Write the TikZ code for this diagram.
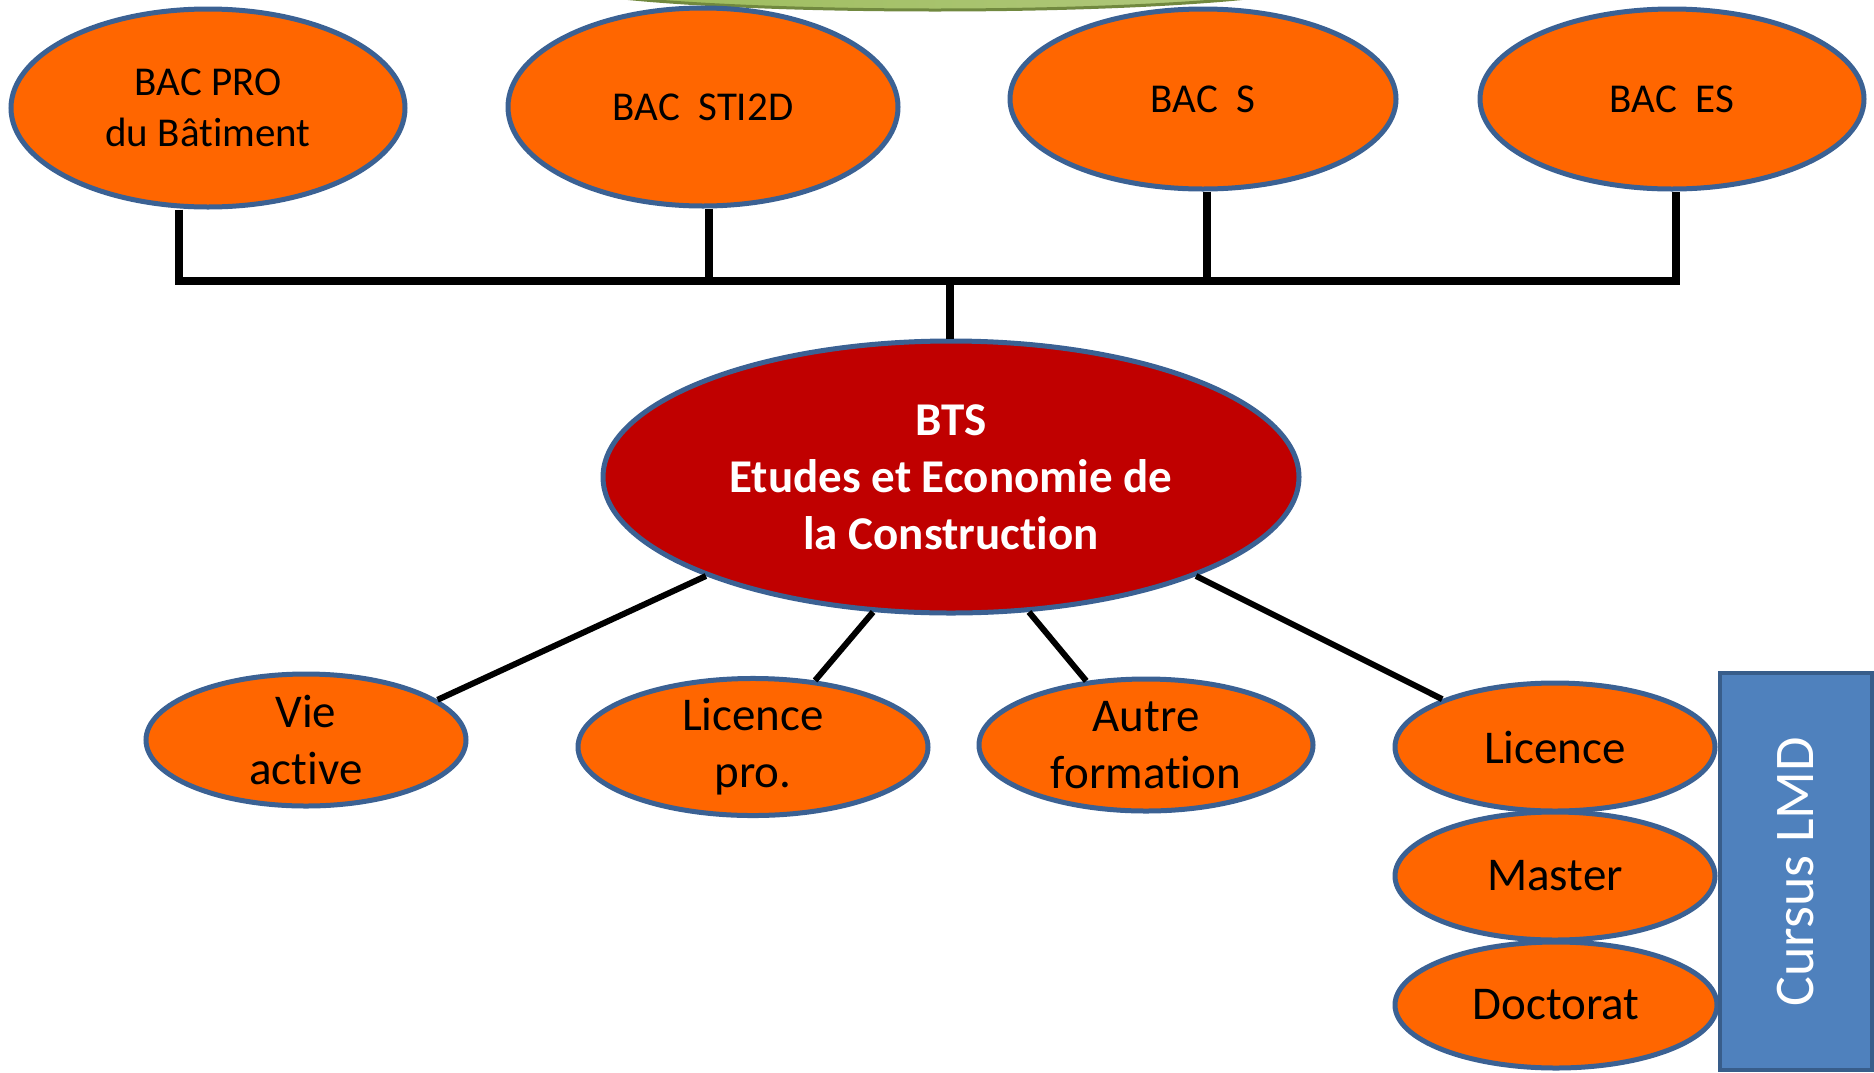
\documentclass[tikz,border=0pt]{standalone}
\usepackage{fontspec}
\setmainfont{Carlito}[Ligatures={NoCommon,NoRequired,NoContextual}, Contextuals={NoAlternate}]
\usetikzlibrary{shapes.geometric}
\definecolor{orng}{HTML}{FF6600}
\definecolor{btsred}{HTML}{C00000}
\definecolor{rim}{HTML}{3B6193}
\definecolor{lmdfill}{HTML}{4F81BD}
\definecolor{lmdrim}{HTML}{385D8A}
\definecolor{grnA}{HTML}{9BBB59}
\definecolor{grnB}{HTML}{B3CA80}
\definecolor{grnrim}{HTML}{71893F}
\tikzset{
  oval/.style={ellipse, draw=rim, line width=2.5pt, fill=orng, inner sep=0pt, align=center, text=black},
  topfont/.style={font=\fontsize{20.5pt}{25.5pt}\selectfont},
  lowfont/.style={font=\fontsize{23.5pt}{28.5pt}\selectfont},
  btsfont/.style={font=\bfseries\fontsize{23.5pt}{28.5pt}\selectfont},
  barline/.style={line width=3.8pt, black, line join=miter},
  link/.style={line width=3pt, black},
}
\begin{document}
\begin{tikzpicture}[x=0.5pt,y=-0.5pt]
\useasboundingbox (0,0) rectangle (1874,1072);
\clip (0,0) rectangle (1874,1072);
% green ellipse at top (partly outside)
\draw[grnrim, line width=1.5pt, left color=grnA, right color=grnB] (935,-20) ellipse [x radius=390, y radius=30];

% top nodes
\node[oval, topfont, minimum width=197pt, minimum height=99pt] (bacpro) at (208,108) {BAC PRO\\du Bâtiment};
\node[oval, topfont, minimum width=195pt, minimum height=99pt] (sti) at (703,107) {BAC\ \ STI2D};
\node[oval, topfont, minimum width=193pt, minimum height=90pt] (bacs) at (1203,99) {BAC\ \ S};
\node[oval, topfont, minimum width=192pt, minimum height=90pt] (bces) at (1672,99) {BAC\ \ ES};

% BTS
\node[oval, btsfont, fill=btsred, text=white, minimum width=348pt, minimum height=136pt] (bts) at (951,477) {BTS\\Etudes et Economie de\\la Construction};

% bottom nodes
\node[oval, lowfont, minimum width=160pt, minimum height=66pt] (vie) at (306,740) {Vie\\active};
\node[oval, lowfont, minimum width=175pt, minimum height=67pt] (lpro) at (753,747) {Licence\\pro.};
\node[oval, lowfont, minimum width=167pt, minimum height=66pt] (autre) at (1146,745) {Autre\\formation};
\node[oval, lowfont, minimum width=160pt, minimum height=64pt] (lic) at (1555,747) {Licence};
\node[oval, lowfont, minimum width=160pt, minimum height=64pt] (master) at (1555,876) {Master};
\node[oval, lowfont, minimum width=161pt, minimum height=63pt] (doct) at (1556,1005) {Doctorat};

% Cursus LMD box
\node[draw=lmdrim, line width=1.8pt, fill=lmdfill, text=white, rotate=90, minimum width=198.5pt, minimum height=76pt, inner sep=0pt, font=\fontsize{28pt}{33pt}\selectfont] (lmd) at (1796,871.5) {Cursus LMD};

% junction points on the bar
\coordinate (j1) at (179,281);
\coordinate (j2) at (709,281);
\coordinate (j3) at (1207,281);
\coordinate (j4) at (1676,281);
\coordinate (jm) at (950,281);

% top connectors
\draw[barline] (j1 |- bacpro.south) -- (j1) -- (j4) -- (j4 |- bces.south);
\draw[barline] (j2 |- sti.south) -- (j2);
\draw[barline] (j3 |- bacs.south) -- (j3);
\draw[barline] (jm) -- (jm |- bts.north);

% bottom connectors
\draw[link] (bts.202) -- (vie.17);
\draw[link] (bts.240) -- (lpro.47);
\draw[link] (bts.300) -- (autre.133);
\draw[link] (bts.338) -- (lic.157);
\end{tikzpicture}
\end{document}
